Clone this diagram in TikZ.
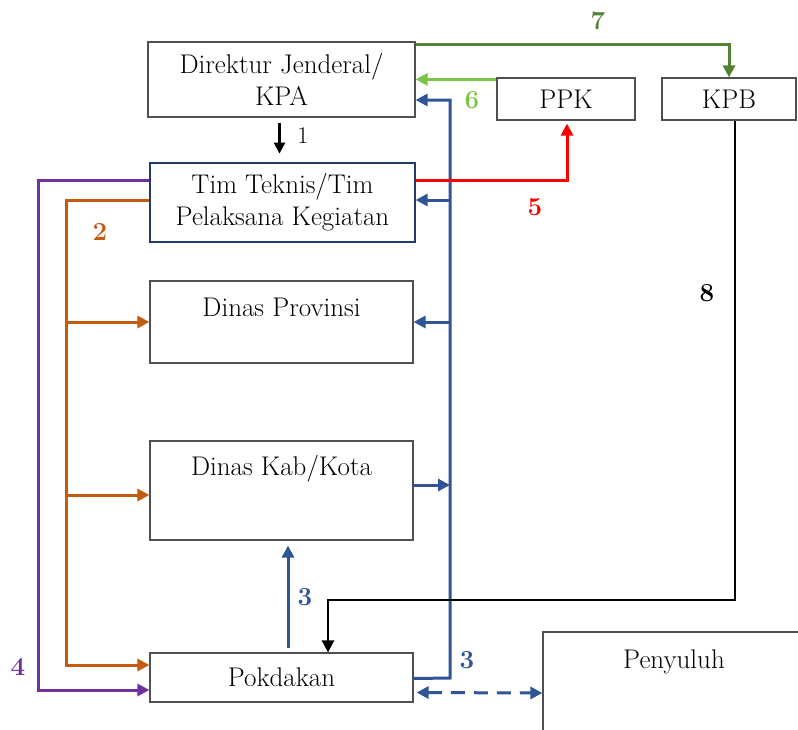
\documentclass[tikz,border=0pt]{standalone}
\usetikzlibrary{arrows.meta,calc}
\definecolor{cgreen}{HTML}{548235}
\definecolor{clgreen}{HTML}{7CC444}
\definecolor{cblue}{HTML}{2F5597}
\definecolor{corange}{HTML}{C55A11}
\definecolor{cpurple}{HTML}{7030A0}
\definecolor{cred}{HTML}{FF0000}
\definecolor{cbox}{HTML}{505050}
\begin{document}
\begin{tikzpicture}[x=1pt,y=-1pt,
  boxfont/.style={font=\fontsize{27}{32}\selectfont},
  box/.style={draw=cbox,line width=1.2pt,rectangle,inner sep=0pt,align=center,boxfont},
  conn/.style={line width=3pt,-{Triangle[length=12pt,width=12pt]}},
  numlab/.style={font=\fontsize{26}{28}\selectfont\bfseries}]
\useasboundingbox (0,0) rectangle (798,729);
\fill[white] (0,0) rectangle (798,729);
% boxes
\node[box,minimum width=267pt,minimum height=75pt] (dj) at (281.5,79.5) {Direktur Jenderal/\\KPA};
\node[box,minimum width=138pt,minimum height=42pt] (ppk) at (566,99) {PPK};
\node[box,minimum width=134pt,minimum height=42pt] (kpb) at (729,99) {KPB};
\node[box,draw=cblue!70!black,minimum width=265pt,minimum height=79pt] (tim) at (282.5,202.5) {Tim Teknis/Tim\\Pelaksana Kegiatan};
\node[box,minimum width=263pt,minimum height=82pt,label={[anchor=north,yshift=-14pt,boxfont]north:Dinas Provinsi}] (prov) at (281.5,322) {};
\node[box,minimum width=263pt,minimum height=99pt,label={[anchor=north,yshift=-11pt,boxfont]north:Dinas Kab/Kota}] (kab) at (281.5,490.5) {};
\node[box,minimum width=263pt,minimum height=49pt] (pok) at (281.5,677.5) {Pokdakan};
\node[box,minimum width=262pt,minimum height=103pt,label={[anchor=north,yshift=-15pt,boxfont]north:Penyuluh}] (pen) at (674,683.5) {};
% 7
\draw[conn,cgreen] ($(dj.north east)+(0,3)$) -| (kpb.north);
\node[numlab,text=cgreen] (l7) at (598,21) {7};
% 6
\draw[conn,clgreen] ($(ppk.north west)+(0,2)$) -- ($(dj.north east)+(0,38)$);
\node[numlab,text=clgreen] (l6) at (472,100) {6};
% 1
\coordinate (a1s) at ($(dj.south)+(-2,5)$);
\draw[line width=2.5pt,-{Triangle[length=11pt,width=11pt]}] (a1s) -- ($(a1s)+(0,31)$);
\node[font=\fontsize{24}{26}\selectfont] (l1) at (303,136) {1};
% blue trunk
\coordinate (tt) at (450,100);
\coordinate (tb) at (450,678);
\draw[conn,cblue] ($(pok.east)+(0,1)$) -- (tb) -- (tt) -- (dj.east |- tt);
\draw[conn,cblue] (450,200) -- (tim.east |- 0,200);
\draw[conn,cblue] (450,322) -- (prov.east |- 0,322);
\draw[conn,cblue] (kab.east |- 0,485) -- (450,485);
\node[numlab,text=cblue] (l3b) at (467,660) {3};
% blue up arrow 3
\draw[conn,cblue] ($(pok.north)+(6.5,-4)$) -- ($(kab.south)+(6.5,5)$);
\node[numlab,text=cblue] (l3a) at (305,597) {3};
% dashed double
\draw[line width=3pt,cblue,dash pattern=on 14pt off 9pt,{Triangle[length=12pt,width=12pt]}-{Triangle[length=12pt,width=12pt]}] ($(pok.east)+(3,15)$) -- (pen.west |- 0,693);
% 5
\draw[conn,cred] (tim.east |- 0,180) -| ($(ppk.south)+(1,3)$);
\node[numlab,text=cred] (l5) at (535,207) {5};
% 8
\coordinate (c8) at (735,600);
\draw[line width=2.8pt,black,-{Triangle[length=12pt,width=12pt]}] (kpb.south -| c8) |- (328,600) -- ($(pok.north)+(46.5,0)$);
\node[numlab] (l8) at (707,293) {8};
% 4
\coordinate (c4) at (38,180);
\draw[conn,cpurple] (tim.west |- c4) -- (c4) |- ($(pok.west)+(0,12.5)$);
\node[numlab,text=cpurple] (l4) at (18,667) {4};
% 2
\coordinate (c2) at (66,200);
\draw[conn,corange] (tim.west |- c2) -- (c2) |- ($(pok.west)+(0,-12.5)$);
\draw[conn,corange] (66,322) -- (prov.west);
\draw[conn,corange] (66,495) -- (kab.west |- 0,495);
\node[numlab,text=corange] (l2) at (100,232) {2};
\end{tikzpicture}
\end{document}
